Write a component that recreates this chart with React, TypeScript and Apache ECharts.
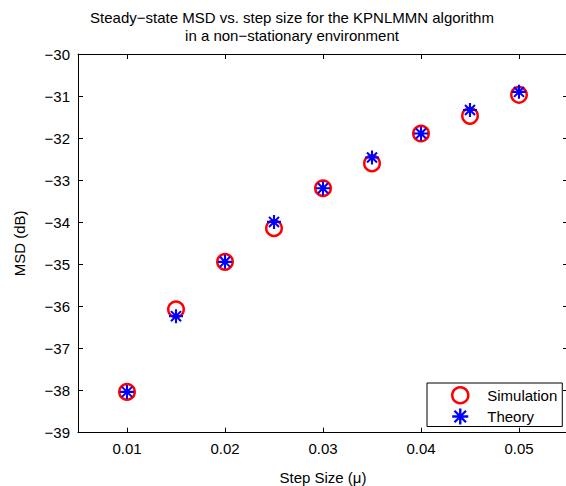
import React, { useEffect, useRef } from "react";
import * as echarts from "echarts";

const stepSizes = [0.01, 0.015, 0.02, 0.025, 0.03, 0.035, 0.04, 0.045, 0.05];
const simulation = [-38.03, -36.07, -34.94, -34.14, -33.19, -32.6, -31.89, -31.47, -30.97];
const theory = [-38.03, -36.23, -34.94, -33.99, -33.19, -32.46, -31.89, -31.33, -30.9];
const xTicks = [0.01, 0.02, 0.03, 0.04, 0.05];
const titleLines = [
  "Steady\u2212state MSD vs. step size for the KPNLMMN algorithm",
  "in a non\u2212stationary environment",
];

const FONT = "'Liberation Sans', Arial, Helvetica, sans-serif";
const STAR =
  "path://M0,8.5L20,8.5L20,11.5L0,11.5Z M8.5,0L11.5,0L11.5,20L8.5,20Z " +
  "M3.9,1.8L18.2,16.1L16.1,18.2L1.8,3.9Z M16.1,1.8L18.2,3.9L3.9,18.2L1.8,16.1Z";

export default function App() {
  const ref = useRef<HTMLDivElement>(null);
  useEffect(() => {
    if (!ref.current) return;
    const chart = echarts.init(ref.current, undefined, { renderer: "svg" });
    const minus = (v: number) => String(v).replace("-", "\u2212");
    const axisLine = { show: true, lineStyle: { color: "#000", width: 1 } };
    const tickStyle = { show: true, inside: true, length: 5, lineStyle: { color: "#000", width: 1 } };
    chart.setOption({
      animation: false,
      backgroundColor: "#fff",
      textStyle: { fontFamily: FONT },
      graphic: [
        {
          type: "text",
          x: 292,
          y: 8,
          style: {
            text: titleLines.join("\n"),
            align: "center",
            verticalAlign: "top",
            lineHeight: 18,
            font: `15px ${FONT}`,
            fill: "#000",
          },
        },
      ],
      grid: {
        left: 78,
        top: 54,
        right: -2,
        bottom: 53.3,
        containLabel: false,
        outerBoundsMode: "none",
      },
      legend: {
        orient: "vertical",
        left: 427,
        top: 383,
        padding: [3, 5, 2, 24],
        itemGap: 4,
        itemWidth: 16,
        itemHeight: 16,
        backgroundColor: "#fff",
        borderColor: "#000",
        borderWidth: 1,
        borderRadius: 0,
        textStyle: {
          fontFamily: FONT,
          fontSize: 15,
          lineHeight: 16,
          color: "#000",
          padding: [0, 0, 0, 14],
        },
        data: [
          {
            name: "Simulation",
            icon: "circle",
            itemStyle: { color: "#fff", borderColor: "#ff0000", borderWidth: 2.5 },
          },
          { name: "Theory", icon: STAR, itemStyle: { color: "#0000ff", borderWidth: 0 } },
        ],
      },
      xAxis: [
        {
          type: "value",
          min: 0.005,
          max: 0.055,
          position: "bottom",
          name: "Step Size (\u03bc)",
          nameLocation: "middle",
          nameGap: 37,
          nameTextStyle: { fontFamily: FONT, fontSize: 15, color: "#000" },
          axisLine,
          axisTick: { ...tickStyle, customValues: xTicks },
          axisLabel: {
            customValues: xTicks,
            formatter: (v: number) => v.toFixed(2),
            fontFamily: FONT,
            fontSize: 15,
            color: "#000",
            margin: 8,
          },
          splitLine: { show: false },
        },
        {
          type: "value",
          min: 0.005,
          max: 0.055,
          position: "top",
          axisLine,
          axisTick: { ...tickStyle, customValues: xTicks },
          axisLabel: { show: false },
          splitLine: { show: false },
        },
      ],
      yAxis: [
        {
          type: "value",
          min: -39,
          max: -30,
          interval: 1,
          position: "left",
          name: "MSD (dB)",
          nameLocation: "middle",
          nameGap: 51,
          nameTextStyle: { fontFamily: FONT, fontSize: 15, color: "#000" },
          axisLine,
          axisTick: tickStyle,
          axisLabel: { formatter: minus, fontFamily: FONT, fontSize: 15, color: "#000", margin: 8 },
          splitLine: { show: false },
        },
        {
          type: "value",
          min: -39,
          max: -30,
          interval: 1,
          position: "right",
          axisLine,
          axisTick: tickStyle,
          axisLabel: { show: false },
          splitLine: { show: false },
        },
      ],
      series: [
        {
          name: "Simulation",
          type: "scatter",
          data: stepSizes.map((x, i) => [x, simulation[i]]),
          symbol: "circle",
          symbolSize: 15.5,
          itemStyle: { color: "#fff", borderColor: "#ff0000", borderWidth: 2.5, opacity: 1 },
          emphasis: { disabled: true },
        },
        {
          name: "Theory",
          type: "scatter",
          data: stepSizes.map((x, i) => [x, theory[i]]),
          symbol: STAR,
          symbolSize: 14,
          itemStyle: { color: "#0000ff", opacity: 1 },
          emphasis: { disabled: true },
        },
      ],
    });
    return () => chart.dispose();
  }, []);
  return <div ref={ref} style={{ width: 566, height: 486, position: "absolute", left: 0, top: 0 }} />;
}
